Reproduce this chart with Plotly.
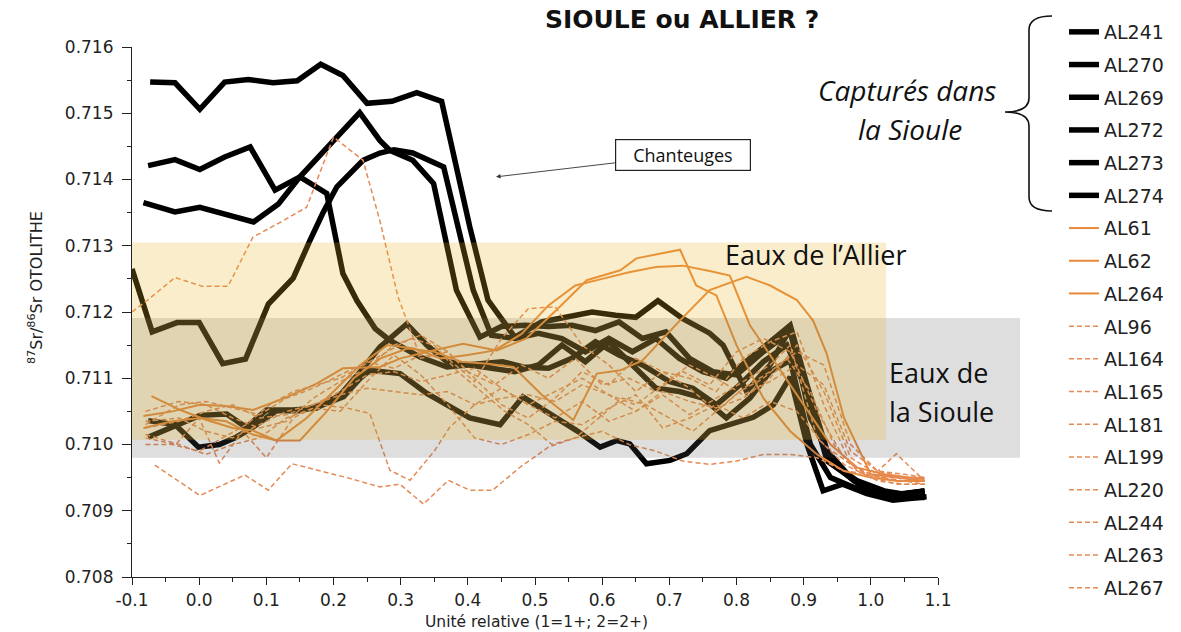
import plotly.graph_objects as go

# ---------------- DATA ----------------
# black series (captured in the Sioule)
AL241_x = [-0.073, -0.036, 0.001, 0.038, 0.073, 0.110, 0.146, 0.181, 0.214, 0.250, 0.287, 0.324, 0.361, 0.403, 0.430, 0.470, 0.510, 0.550, 0.585, 0.620, 0.650, 0.683, 0.720, 0.760, 0.780, 0.815, 0.850, 0.880, 0.910, 0.945, 0.980, 1.020, 1.050, 1.080]
AL241_y = [0.71547, 0.71546, 0.71506, 0.71547, 0.71551, 0.71546, 0.71549, 0.71574, 0.71557, 0.71515, 0.71518, 0.71531, 0.71518, 0.71328, 0.71218, 0.71162, 0.71185, 0.71192, 0.71200, 0.71195, 0.71192, 0.71217, 0.71190, 0.71168, 0.71150, 0.71080, 0.71120, 0.71175, 0.71040, 0.70970, 0.70945, 0.70930, 0.70925, 0.70930]

AL270_x = [-0.076, -0.036, 0.001, 0.038, 0.076, 0.113, 0.150, 0.190, 0.214, 0.235, 0.262, 0.284, 0.329, 0.369, 0.418, 0.452, 0.482, 0.520, 0.555, 0.590, 0.625, 0.660, 0.700, 0.735, 0.770, 0.805, 0.840, 0.875, 0.905, 0.935, 0.970, 1.005, 1.040, 1.080]
AL270_y = [0.71421, 0.71430, 0.71415, 0.71434, 0.71449, 0.71384, 0.71404, 0.71379, 0.71258, 0.71217, 0.71175, 0.71157, 0.71132, 0.71117, 0.71122, 0.71125, 0.71117, 0.71115, 0.71130, 0.71155, 0.71135, 0.71120, 0.71095, 0.71085, 0.71060, 0.71090, 0.71125, 0.71150, 0.71080, 0.70975, 0.70950, 0.70930, 0.70925, 0.70930]

AL269_x = [-0.083, -0.036, 0.001, 0.041, 0.081, 0.118, 0.150, 0.205, 0.239, 0.269, 0.284, 0.318, 0.349, 0.383, 0.418, 0.450, 0.485, 0.520, 0.555, 0.590, 0.625, 0.660, 0.695, 0.730, 0.765, 0.800, 0.840, 0.880, 0.910, 0.940, 0.975, 1.010, 1.045, 1.080]
AL269_y = [0.71365, 0.71351, 0.71358, 0.71348, 0.71336, 0.71363, 0.71404, 0.71464, 0.71501, 0.71459, 0.71444, 0.71429, 0.71394, 0.71233, 0.71162, 0.71178, 0.71180, 0.71178, 0.71180, 0.71172, 0.71185, 0.71160, 0.71170, 0.71130, 0.71110, 0.71105, 0.71140, 0.71170, 0.71050, 0.70975, 0.70945, 0.70925, 0.70920, 0.70928]

AL272_x = [-0.100, -0.070, -0.033, 0.000, 0.035, 0.069, 0.103, 0.140, 0.165, 0.184, 0.205, 0.244, 0.269, 0.290, 0.318, 0.364, 0.408, 0.435, 0.470, 0.505, 0.540, 0.575, 0.610, 0.645, 0.680, 0.715, 0.750, 0.785, 0.820, 0.855, 0.880, 0.905, 0.935, 0.970, 1.005, 1.040, 1.080]
AL272_y = [0.71265, 0.71170, 0.71184, 0.71184, 0.71122, 0.71129, 0.71212, 0.71251, 0.71308, 0.71349, 0.71389, 0.71429, 0.71440, 0.71445, 0.71440, 0.71419, 0.71233, 0.71165, 0.71160, 0.71168, 0.71160, 0.71140, 0.71160, 0.71140, 0.71160, 0.71130, 0.71110, 0.71100, 0.71130, 0.71160, 0.71180, 0.71090, 0.70990, 0.70950, 0.70930, 0.70920, 0.70920]

AL273_x = [-0.076, -0.036, 0.001, 0.041, 0.070, 0.100, 0.140, 0.175, 0.210, 0.240, 0.269, 0.309, 0.339, 0.369, 0.400, 0.435, 0.470, 0.505, 0.540, 0.575, 0.610, 0.645, 0.680, 0.715, 0.750, 0.785, 0.820, 0.850, 0.880, 0.910, 0.940, 0.975, 1.010, 1.045, 1.080]
AL273_y = [0.71011, 0.71029, 0.71044, 0.71046, 0.71026, 0.71052, 0.71052, 0.71055, 0.71075, 0.71110, 0.71147, 0.71182, 0.71150, 0.71125, 0.71120, 0.71115, 0.71110, 0.71120, 0.71150, 0.71125, 0.71155, 0.71120, 0.71085, 0.71080, 0.71070, 0.71040, 0.71070, 0.71110, 0.71127, 0.71000, 0.70950, 0.70935, 0.70930, 0.70925, 0.70930]

AL274_x = [-0.076, -0.036, -0.001, 0.030, 0.055, 0.080, 0.115, 0.150, 0.185, 0.215, 0.240, 0.254, 0.299, 0.339, 0.403, 0.448, 0.482, 0.522, 0.562, 0.597, 0.622, 0.641, 0.666, 0.701, 0.726, 0.760, 0.790, 0.825, 0.855, 0.880, 0.905, 0.929, 0.958, 0.994, 1.033, 1.083]
AL274_y = [0.71036, 0.71030, 0.70996, 0.71000, 0.71011, 0.71026, 0.71051, 0.71051, 0.71060, 0.71072, 0.71100, 0.71112, 0.71107, 0.71077, 0.71040, 0.71030, 0.71072, 0.71047, 0.71021, 0.70996, 0.71006, 0.71001, 0.70971, 0.70976, 0.70986, 0.71021, 0.71031, 0.71041, 0.71060, 0.71102, 0.71000, 0.70930, 0.70940, 0.70926, 0.70916, 0.70921]

# solid orange series
AL61_x = [-0.083, -0.040, 0.001, 0.040, 0.080, 0.127, 0.175, 0.214, 0.269, 0.300, 0.340, 0.393, 0.443, 0.487, 0.532, 0.577, 0.627, 0.651, 0.716, 0.740, 0.770, 0.800, 0.840, 0.880, 0.920, 0.960, 1.000, 1.040, 1.080]
AL61_y = [0.71043, 0.71050, 0.71060, 0.71058, 0.71052, 0.71070, 0.71092, 0.71115, 0.71117, 0.71130, 0.71140, 0.71152, 0.71142, 0.71160, 0.71203, 0.71248, 0.71263, 0.71281, 0.71294, 0.71240, 0.71225, 0.71150, 0.71070, 0.71020, 0.70985, 0.70960, 0.70950, 0.70945, 0.70945]

AL62_x = [-0.071, -0.028, 0.011, 0.050, 0.080, 0.115, 0.160, 0.200, 0.240, 0.280, 0.320, 0.360, 0.400, 0.440, 0.480, 0.520, 0.560, 0.600, 0.640, 0.680, 0.720, 0.760, 0.790, 0.820, 0.860, 0.900, 0.940, 0.980, 1.020, 1.060, 1.080]
AL62_y = [0.71073, 0.71052, 0.71037, 0.71025, 0.71021, 0.71006, 0.71040, 0.71080, 0.71120, 0.71150, 0.71145, 0.71130, 0.71135, 0.71142, 0.71167, 0.71210, 0.71240, 0.71250, 0.71260, 0.71268, 0.71270, 0.71262, 0.71255, 0.71180, 0.71120, 0.71060, 0.71000, 0.70965, 0.70955, 0.70950, 0.70948]

AL264_x = [-0.083, -0.040, 0.001, 0.040, 0.080, 0.115, 0.150, 0.190, 0.230, 0.270, 0.310, 0.350, 0.390, 0.430, 0.468, 0.510, 0.557, 0.592, 0.627, 0.660, 0.711, 0.760, 0.815, 0.850, 0.890, 0.914, 0.934, 0.960, 1.000, 1.040, 1.080]
AL264_y = [0.71025, 0.71035, 0.71040, 0.71035, 0.71015, 0.71006, 0.71006, 0.71050, 0.71100, 0.71130, 0.71145, 0.71140, 0.71125, 0.71122, 0.71117, 0.71075, 0.71037, 0.71107, 0.71112, 0.71127, 0.71182, 0.71233, 0.71253, 0.71240, 0.71218, 0.71187, 0.71138, 0.71040, 0.70955, 0.70950, 0.70945]

# dashed orange series
AL96_x = [-0.100, -0.078, -0.036, 0.004, 0.043, 0.080, 0.120, 0.160, 0.200, 0.244, 0.269, 0.296, 0.330, 0.370, 0.400, 0.440, 0.480, 0.520, 0.560, 0.600, 0.640, 0.680, 0.720, 0.760, 0.800, 0.840, 0.880, 0.920, 0.960, 1.000, 1.040, 1.080]
AL96_y = [0.71200, 0.71217, 0.71252, 0.71239, 0.71239, 0.71313, 0.71335, 0.71358, 0.71464, 0.71429, 0.71338, 0.71223, 0.71130, 0.71140, 0.71110, 0.71090, 0.71120, 0.71100, 0.71130, 0.71090, 0.71100, 0.71080, 0.71110, 0.71090, 0.71140, 0.71160, 0.71140, 0.71050, 0.70980, 0.70950, 0.70940, 0.70940]

AL164_x = [-0.066, 0.001, 0.068, 0.103, 0.138, 0.180, 0.220, 0.269, 0.299, 0.334, 0.371, 0.403, 0.437, 0.478, 0.520, 0.560, 0.600, 0.640, 0.680, 0.720, 0.760, 0.800, 0.840, 0.880, 0.920, 0.960, 1.000, 1.040, 1.080]
AL164_y = [0.70969, 0.70923, 0.70954, 0.70931, 0.70971, 0.70960, 0.70950, 0.70936, 0.70940, 0.70910, 0.70946, 0.70931, 0.70931, 0.70966, 0.70996, 0.71010, 0.71020, 0.71000, 0.70990, 0.70975, 0.70970, 0.70975, 0.70985, 0.70985, 0.70980, 0.70960, 0.70955, 0.70950, 0.70945]

AL165_x = [-0.080, -0.035, 0.000, 0.030, 0.065, 0.100, 0.140, 0.180, 0.220, 0.254, 0.284, 0.314, 0.350, 0.373, 0.410, 0.450, 0.490, 0.530, 0.570, 0.610, 0.650, 0.690, 0.730, 0.770, 0.810, 0.850, 0.880, 0.920, 0.960, 1.000, 1.038, 1.080]
AL165_y = [0.71010, 0.71000, 0.71040, 0.70972, 0.71020, 0.70980, 0.71040, 0.71060, 0.71055, 0.71047, 0.70961, 0.70946, 0.70990, 0.71026, 0.71060, 0.71085, 0.71060, 0.71040, 0.71065, 0.71035, 0.71050, 0.71075, 0.71045, 0.71070, 0.71095, 0.71120, 0.71150, 0.71010, 0.70970, 0.70950, 0.70986, 0.70945]

AL181_x = [-0.080, -0.040, 0.000, 0.035, 0.070, 0.105, 0.140, 0.175, 0.210, 0.245, 0.280, 0.315, 0.350, 0.385, 0.420, 0.455, 0.490, 0.525, 0.560, 0.595, 0.630, 0.665, 0.700, 0.735, 0.770, 0.805, 0.840, 0.875, 0.910, 0.945, 0.980, 1.015, 1.050, 1.080]
AL181_y = [0.71000, 0.71000, 0.70990, 0.71010, 0.71030, 0.71060, 0.71080, 0.71090, 0.71100, 0.71120, 0.71140, 0.71160, 0.71150, 0.71110, 0.71080, 0.71050, 0.71030, 0.71000, 0.71010, 0.71040, 0.71070, 0.71060, 0.71040, 0.71020, 0.71050, 0.71080, 0.71100, 0.71130, 0.71080, 0.71000, 0.70960, 0.70950, 0.70945, 0.70940]

DASH_x = [-0.080, -0.030, 0.010, 0.050, 0.090, 0.130, 0.170, 0.210, 0.250, 0.290, 0.330, 0.370, 0.410, 0.450, 0.490, 0.530, 0.570, 0.610, 0.650, 0.690, 0.730, 0.770, 0.810, 0.850, 0.890, 0.930, 0.970, 1.010, 1.050, 1.080]
AL199_y = [0.71030, 0.71060, 0.71065, 0.71055, 0.71045, 0.71070, 0.71085, 0.71105, 0.71125, 0.71115, 0.71135, 0.71130, 0.71095, 0.71160, 0.71205, 0.71208, 0.71150, 0.71120, 0.71080, 0.71110, 0.71100, 0.71080, 0.71130, 0.71155, 0.71170, 0.71060, 0.70970, 0.70950, 0.70950, 0.70950]
AL220_y = [0.71035, 0.71040, 0.71020, 0.71010, 0.71030, 0.71050, 0.71060, 0.71075, 0.71085, 0.71080, 0.71075, 0.71080, 0.71060, 0.71070, 0.71075, 0.71065, 0.71090, 0.71075, 0.71050, 0.71080, 0.71065, 0.71055, 0.71070, 0.71100, 0.71150, 0.71080, 0.70980, 0.70955, 0.70950, 0.70945]
AL244_y = [0.71050, 0.71065, 0.71060, 0.71040, 0.71025, 0.71035, 0.71070, 0.71095, 0.71115, 0.71150, 0.71165, 0.71140, 0.71100, 0.71060, 0.71040, 0.71070, 0.71110, 0.71090, 0.71130, 0.71110, 0.71085, 0.71050, 0.71085, 0.71110, 0.71140, 0.71120, 0.71000, 0.70960, 0.70955, 0.70950]
AL263_y = [0.71015, 0.71000, 0.70985, 0.71000, 0.71010, 0.71040, 0.71055, 0.71050, 0.71095, 0.71135, 0.71105, 0.71060, 0.71010, 0.71000, 0.71015, 0.71035, 0.71030, 0.71055, 0.71075, 0.71025, 0.71040, 0.71060, 0.71040, 0.71065, 0.71050, 0.71000, 0.70970, 0.70945, 0.70940, 0.70940]
AL267_y = [0.71025, 0.71035, 0.71050, 0.71060, 0.71040, 0.71045, 0.71060, 0.71080, 0.71105, 0.71110, 0.71095, 0.71105, 0.71115, 0.71085, 0.71060, 0.71080, 0.71100, 0.71075, 0.71060, 0.71090, 0.71120, 0.71100, 0.71075, 0.71095, 0.71120, 0.71090, 0.70990, 0.70960, 0.70950, 0.70950]

# water signature bands (87Sr/86Sr)
ALLIER_BAND = [0.71007, 0.71305]
SIOULE_BAND = [0.70980, 0.71191]

X_TICKS = [-0.1, 0.0, 0.1, 0.2, 0.3, 0.4, 0.5, 0.6, 0.7, 0.8, 0.9, 1.0, 1.1]
Y_TICKS = [0.708, 0.709, 0.710, 0.711, 0.712, 0.713, 0.714, 0.715, 0.716]

black_series = [("AL241", AL241_x, AL241_y), ("AL270", AL270_x, AL270_y), ("AL269", AL269_x, AL269_y),
                ("AL272", AL272_x, AL272_y), ("AL273", AL273_x, AL273_y), ("AL274", AL274_x, AL274_y)]
solid_series = [("AL61", AL61_x, AL61_y), ("AL62", AL62_x, AL62_y), ("AL264", AL264_x, AL264_y)]
dashed_series = [("AL96", AL96_x, AL96_y), ("AL164", AL164_x, AL164_y), ("AL165", AL165_x, AL165_y),
                 ("AL181", AL181_x, AL181_y), ("AL199", DASH_x, AL199_y), ("AL220", DASH_x, AL220_y),
                 ("AL244", DASH_x, AL244_y), ("AL263", DASH_x, AL263_y), ("AL267", DASH_x, AL267_y)]

# ---------------- FIGURE ----------------
L, R, T, B = 132, 243, 47, 55
W, H = 1181, 632
PW, PH = W - L - R, H - T - B


def px(x):
    return (x - L) / PW


def py(y):
    return (H - B - y) / PH


fig = go.Figure()
for name, xs, ys in black_series:
    fig.add_trace(go.Scatter(x=xs, y=ys, name=name, mode="lines", legendgroup=name,
                             line=dict(color="#000000", width=5.5)))
for name, xs, ys in solid_series:
    fig.add_trace(go.Scatter(x=xs, y=ys, name=name, mode="lines", legendgroup=name,
                             line=dict(color="#E8893A", width=2)))
for name, xs, ys in dashed_series:
    fig.add_trace(go.Scatter(x=xs, y=ys, name=name, mode="lines", legendgroup=name,
                             line=dict(color="#E58A55", width=1.5, dash="5px,3px")))

shapes = [
    dict(type="rect", xref="paper", yref="y", x0=0, x1=px(1020), y0=SIOULE_BAND[0], y1=SIOULE_BAND[1],
         fillcolor="rgba(90,90,90,0.2)", line=dict(width=0), layer="above"),
    dict(type="rect", xref="paper", yref="y", x0=0, x1=px(886), y0=ALLIER_BAND[0], y1=ALLIER_BAND[1],
         fillcolor="rgba(235,180,40,0.24)", line=dict(width=0), layer="above"),
]
# curly brace
pts = "M {a},{b} Q {c},{b} {c},{d} L {c},{e} Q {c},{f} {g},{f} Q {c},{f} {c},{h} L {c},{i} Q {c},{j} {a},{j}".format(
    a=px(1052), b=py(16), c=px(1029), d=py(30), e=py(98), f=py(112), g=px(1005), h=py(126), i=py(197), j=py(211))
shapes.append(dict(type="path", xref="paper", yref="paper", path=pts, line=dict(color="#111", width=1.6)))

BIG = dict(family="Open Sans", size=27, color="#111")
annotations = [
    dict(text="<b>SIOULE ou ALLIER ?</b>", xref="paper", yref="paper", x=px(682), y=py(19),
         showarrow=False, font=dict(family="DejaVu Sans", size=25, color="#111"), xanchor="center", yanchor="middle"),
    dict(text="<sup>87</sup>Sr/<sup>86</sup>Sr OTOLITHE", xref="paper", yref="paper", x=px(35), y=py(288),
         textangle=-90, showarrow=False, font=dict(family="DejaVu Sans", size=16, color="#222"),
         xanchor="center", yanchor="middle"),
    dict(text="Unité relative (1=1+; 2=2+)", xref="paper", yref="paper", x=px(536), y=py(622),
         showarrow=False, font=dict(family="DejaVu Sans", size=15.5, color="#222"), xanchor="center", yanchor="middle"),
    dict(text="&nbsp;&nbsp;&nbsp;Chanteuges&nbsp;&nbsp;&nbsp;", xref="x", yref="y", x=0.442, y=0.71404, ax=187, ay=-22,
         showarrow=True, arrowhead=2, arrowsize=1, arrowwidth=0.9, arrowcolor="#333",
         bordercolor="#222", borderwidth=1.2, borderpad=3, bgcolor="white",
         font=dict(family="Open Sans", size=18, color="#111")),
    dict(text="Eaux de l’Allier", xref="paper", yref="paper", x=px(816), y=py(254), showarrow=False,
         font=BIG, xanchor="center", yanchor="middle"),
    dict(text="Eaux de", xref="paper", yref="paper", x=px(887), y=py(372), showarrow=False,
         font=BIG, xanchor="left", yanchor="middle"),
    dict(text="la Sioule", xref="paper", yref="paper", x=px(887), y=py(411), showarrow=False,
         font=BIG, xanchor="left", yanchor="middle"),
    dict(text="<i>Capturés dans</i>", xref="paper", yref="paper", x=px(907), y=py(90), showarrow=False,
         font=dict(family="Open Sans", size=28, color="#111"), xanchor="center", yanchor="middle"),
    dict(text="<i>la Sioule</i>", xref="paper", yref="paper", x=px(910), y=py(129), showarrow=False,
         font=dict(family="Open Sans", size=28, color="#111"), xanchor="center", yanchor="middle"),
]

fig.update_layout(
    width=W, height=H, autosize=False,
    margin=dict(l=L, r=R, t=T, b=B, pad=0),
    paper_bgcolor="white", plot_bgcolor="white",
    showlegend=True,
    legend=dict(x=px(1064), y=py(13), xanchor="left", yanchor="top", traceorder="grouped",
                tracegroupgap=5.0, font=dict(family="DejaVu Sans", size=19, color="#222"),
                bgcolor="rgba(0,0,0,0)", maxheight=630),
    shapes=shapes,
    annotations=annotations,
    xaxis=dict(range=[-0.1, 1.1], tickvals=X_TICKS, ticktext=["%.1f" % v for v in X_TICKS],
               showgrid=False, zeroline=False, showline=True, linecolor="#222", linewidth=1.2,
               ticks="outside", ticklen=7, tickwidth=1.2, tickcolor="#222",
               minor=dict(dtick=0.05, tick0=-0.1, ticks="outside", ticklen=4, tickcolor="#222", showgrid=False),
               tickfont=dict(family="DejaVu Sans", size=17, color="#222")),
    yaxis=dict(range=[0.708, 0.716], tickvals=Y_TICKS, ticktext=["%.3f" % v for v in Y_TICKS],
               showgrid=False, zeroline=False, showline=True, linecolor="#222", linewidth=1.2,
               ticks="outside", ticklen=9, tickwidth=1.2, tickcolor="#222", ticklabelstandoff=5,
               minor=dict(dtick=0.0005, tick0=0.708, ticks="outside", ticklen=4, tickcolor="#222", showgrid=False),
               tickfont=dict(family="DejaVu Sans", size=17, color="#222")),
    # overlay axes that only add the inner half of the crossing major ticks
    xaxis2=dict(range=[-0.1, 1.1], overlaying="x", anchor="y", side="bottom", tickvals=X_TICKS,
                showticklabels=False, ticks="inside", ticklen=5, tickwidth=1.2, tickcolor="#222",
                showgrid=False, zeroline=False, showline=False),
    yaxis2=dict(range=[0.708, 0.716], overlaying="y", anchor="x", side="left", tickvals=Y_TICKS,
                showticklabels=False, ticks="inside", ticklen=4, tickwidth=1.2, tickcolor="#222",
                showgrid=False, zeroline=False, showline=False),
)

fig.write_html("out.html", config={"displayModeBar": False},
               post_script="document.body.style.margin='0px';document.body.style.overflow='hidden';")
